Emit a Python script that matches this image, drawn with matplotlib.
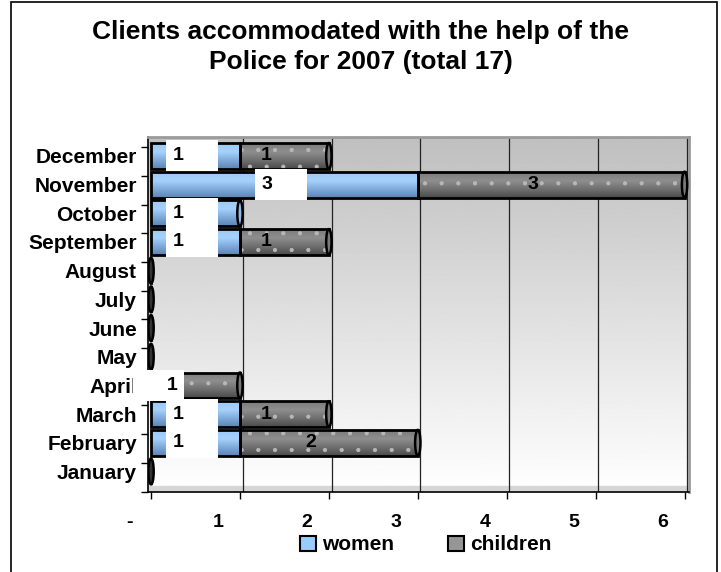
import numpy as np
import matplotlib
matplotlib.use('Agg')
import matplotlib.pyplot as plt
import matplotlib.patches as mpatches
import matplotlib.transforms as mtransforms
from matplotlib.colors import LinearSegmentedColormap

plt.rcParams['font.family'] = ['Liberation Sans', 'DejaVu Sans']
plt.rcParams['hatch.linewidth'] = 0.6

months = ['January', 'February', 'March', 'April', 'May', 'June', 'July',
          'August', 'September', 'October', 'November', 'December']
women = [0, 1, 1, 0, 0, 0, 0, 0, 1, 1, 3, 1]
children = [0, 2, 1, 1, 0, 0, 0, 0, 1, 0, 3, 1]
xticks = [0, 1, 2, 3, 4, 5, 6]
xticklabels = ['-', '1', '2', '3', '4', '5', '6']

blue = '#8dbbec'
grey = '#7a7a7a'
blue_cm = LinearSegmentedColormap.from_list('b', ['#5c84b2', '#7eaadb', '#a6d1fb', '#9ccaf7'])
grey_cm = LinearSegmentedColormap.from_list('g', ['#4a4a4a', '#6f6f6f', '#8e8e8e', '#7c7c7c'])

fig = plt.figure(figsize=(7.21, 5.72), dpi=100)
ax = fig.add_axes([148 / 721, 1 - 492 / 572, 541 / 721, 355 / 572])

y = np.arange(len(months))
x0, x1 = -0.034, 6.05
y0, y1 = -0.716, 11.66
ax.set_xlim(x0, x1)
ax.set_ylim(y0, y1)

# gradient background, grey at top -> white at bottom
grad = np.linspace(1.0, 0.75, 256).reshape(-1, 1)
ax.imshow(grad, extent=[x0, x1, y0, y1], origin='lower', aspect='auto',
          cmap='gray', vmin=0, vmax=1, zorder=0)
ax.axhspan(y0, y0 + 0.22, color='#d6d6d6', zorder=0.5)

for x in xticks[1:]:
    ax.axvline(x + 0.03, color='#222222', lw=0.9, zorder=1)


def shade(bars, cmap):
    # fill each bar with a vertical gradient clipped to its rectangle
    g = np.linspace(0, 1, 64).reshape(-1, 1)
    for b in bars:
        if b.get_width() <= 0:
            continue
        bx, by = b.get_x(), b.get_y()
        im = ax.imshow(g, extent=[bx, bx + b.get_width(), by, by + b.get_height()],
                       origin='lower', aspect='auto', cmap=cmap, zorder=2)
        im.set_clip_path(b)


h = 0.9
wb = ax.barh(y, women, height=h, color='none', edgecolor='none', zorder=1.9)
shade(wb, blue_cm)
ax.barh(y, women, height=h, fill=False, edgecolor='black', lw=2, zorder=3)

cb = ax.barh(y, children, left=women, height=h, color='none', edgecolor='none',
             zorder=1.9)
shade(cb, grey_cm)
ax.barh(y, children, left=women, height=h, color='none', hatch='.',
        edgecolor='#b8b8b8', lw=0, zorder=2.5)
ax.barh(y, children, left=women, height=h, fill=False, edgecolor='black',
        lw=2, zorder=3)
ax.set_xlim(x0, x1)
ax.set_ylim(y0, y1)

# cylinder end caps
for i in range(len(months)):
    total = women[i] + children[i]
    cap = grey if children[i] > 0 else (blue if women[i] > 0 else '#333333')
    ax.add_patch(mpatches.Ellipse((total, y[i]), 0.06, h, facecolor=cap,
                                  edgecolor='black', lw=1.8, zorder=3.5))

lab_w = mtransforms.offset_copy(ax.transData, fig=fig, x=-22, y=0, units='dots')
lab_c = mtransforms.offset_copy(ax.transData, fig=fig, x=-18, y=0, units='dots')
for i in range(len(months)):
    if women[i] > 0:
        ax.text(women[i] / 2, y[i], f'{women[i]}     ', transform=lab_w,
                ha='left', va='center', fontsize=14, fontweight='bold', zorder=4,
                bbox=dict(boxstyle='square,pad=0.36', fc='white', ec='none'))
    if children[i] > 0:
        cx = women[i] + children[i] / 2
        if women[i] == 0:
            ax.text(cx, y[i], f'     {children[i]}', transform=lab_c,
                    ha='right', va='center', fontsize=14, fontweight='bold',
                    zorder=4, bbox=dict(boxstyle='square,pad=0.36', fc='white',
                                        ec='none'))
        else:
            ax.text(cx, y[i], str(children[i]), transform=lab_c, ha='center',
                    va='center', fontsize=14, fontweight='bold', zorder=4)

ax.set_yticks(y)
ax.set_yticklabels(months, fontsize=15, fontweight='bold')
ax.set_yticks(np.arange(-0.7, 11.7, 1), minor=True)
ax.tick_params(axis='y', which='major', length=0, pad=8)
ax.tick_params(axis='y', which='minor', length=5, width=1)

ax.set_xticks(xticks)
ax.set_xticklabels(xticklabels, fontsize=14, fontweight='bold')
ax.tick_params(axis='x', length=5, width=1, pad=11)
for lab in ax.get_xticklabels():
    lab.set_transform(lab.get_transform() +
                      mtransforms.ScaledTranslation(-22 / 100, 0, fig.dpi_scale_trans))

for s in ['top', 'right']:
    ax.spines[s].set_color('#9a9a9a')
    ax.spines[s].set_linewidth(2)
ax.spines['left'].set_linewidth(1.2)
ax.spines['bottom'].set_linewidth(1.2)

handles = [mpatches.Patch(facecolor='#99ccff', edgecolor='black', lw=1.5, label='women'),
           mpatches.Patch(facecolor='#969696', edgecolor='black', lw=1.5, label='children')]
fig.legend(handles=handles, loc='center', bbox_to_anchor=(426 / 721, 1 - 545 / 572),
           ncol=2, frameon=False, prop={'weight': 'bold', 'size': 15},
           handlelength=0.75, handleheight=0.75, handletextpad=0.3, columnspacing=2.6)

fig.text(361 / 721, 1 - 47 / 572,
         'Clients accommodated with the help of the\nPolice for 2007 (total 17)',
         ha='center', va='center', fontsize=19, fontweight='bold', linespacing=1.3)

fig.patches.append(mpatches.Rectangle((11 / 721, -0.01), 706 / 721, 1.007,
                                      transform=fig.transFigure, fill=False,
                                      edgecolor='black', lw=1.2))

fig.savefig('out.png', dpi=100)
